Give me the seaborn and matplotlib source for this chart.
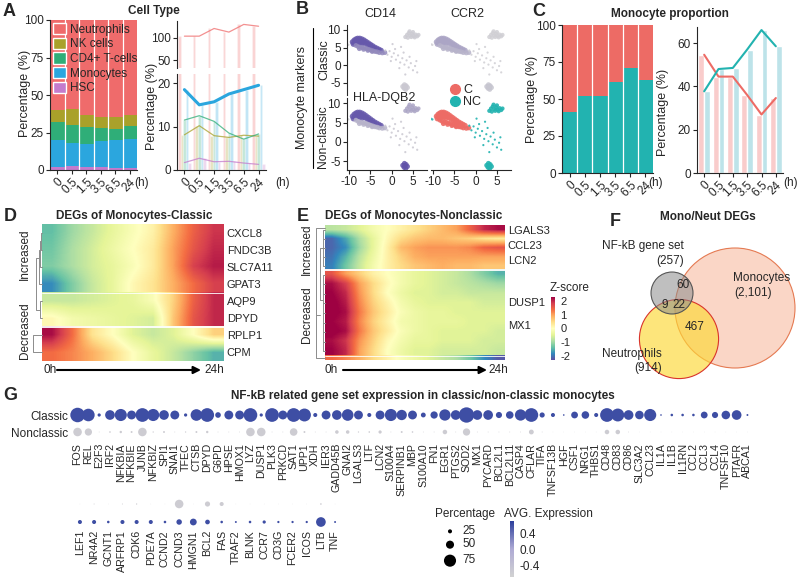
import numpy as np
import pandas as pd
import matplotlib
matplotlib.use("Agg")
import matplotlib.pyplot as plt
import seaborn as sns
from matplotlib.patches import Patch, Circle
from matplotlib.lines import Line2D
from matplotlib.colors import LinearSegmentedColormap, Normalize
from matplotlib.cm import ScalarMappable

sns.set_style("ticks")
plt.rcParams["font.family"] = ["Liberation Sans", "DejaVu Sans"]
plt.rcParams["axes.unicode_minus"] = False
plt.rcParams["axes.linewidth"] = 0.8
plt.rcParams["xtick.major.width"] = 0.8
plt.rcParams["ytick.major.width"] = 0.8
plt.rcParams["xtick.major.size"] = 3
plt.rcParams["ytick.major.size"] = 3
plt.rcParams["xtick.labelsize"] = 8.5
plt.rcParams["ytick.labelsize"] = 8.5
plt.rcParams["xtick.major.pad"] = 1.5
plt.rcParams["ytick.major.pad"] = 1.5

W, H = 799, 580

# ---------------- data: A (cell type composition) ----------------
times = ["0", "0.5", "1.5", "3.5", "6.5", "24"]
cell_types = ["Neutrophils", "NK cells", "CD4+ T-cells", "Monocytes", "HSC"]
cell_colors = ["#ef6b6b", "#a9a12a", "#2fae78", "#2ba6de", "#c47bcc"]
hsc_pct = [1.7, 2.7, 1.9, 2.0, 1.6, 1.3]
mono_pct = [18.5, 15.0, 15.7, 17.5, 18.5, 19.5]
cd4_pct = [11.5, 12.5, 11.2, 8.5, 7.1, 8.3]
nk_pct = [8.1, 10.2, 7.9, 7.5, 8.0, 7.8]
neut_scaled = [103, 103, 120, 112, 129, 125]

# ---------------- data: C (monocyte proportion) ----------------
nc_pct = [41, 52, 52, 61.5, 71, 63]
c_ratio = [54.6, 44.5, 44.5, 36.0, 27.0, 34.6]
nc_ratio = [37.7, 48.0, 48.5, 57.0, 66.0, 58.5]
c_col, nc_col = "#ed6b65", "#22b3b0"
c_light, nc_light = "#f9cccb", "#bde3e9"

# ---------------- data: B (UMAP points) ----------------
main_top = [(-9.2, 6.6), (-8.8, 7.1), (-8.4, 7.4), (-8.0, 7.6), (-7.5, 7.6), (-7.0, 7.4),
            (-6.5, 7.1), (-6.0, 6.7), (-5.5, 6.3), (-5.0, 5.9), (-4.5, 5.5), (-4.0, 5.1),
            (-3.5, 4.8), (-3.0, 4.5), (-2.5, 4.2), (-8.8, 6.4), (-8.3, 6.8), (-7.8, 7.0),
            (-7.3, 6.9), (-6.8, 6.6), (-6.3, 6.3), (-5.8, 5.9), (-5.3, 5.6), (-4.8, 5.3),
            (-4.3, 4.9), (-9.0, 6.0), (-8.5, 6.2), (-8.0, 6.4), (-7.5, 6.4), (-7.0, 6.1)]
main_low = [(-8.4, 5.6), (-7.9, 5.3), (-7.4, 5.1), (-6.9, 5.0), (-6.4, 4.9), (-5.9, 4.7),
            (-5.4, 4.5), (-4.9, 4.3), (-4.4, 4.1), (-3.9, 3.9), (-3.4, 3.8), (-2.9, 3.6),
            (-2.2, 3.5), (-1.6, 3.6), (-7.6, 4.7), (-6.6, 4.5), (-5.6, 4.2), (-4.6, 3.9)]
top_right = [(3.2, 8.0), (3.6, 8.6), (4.0, 9.1), (4.4, 8.4), (4.8, 8.9), (5.2, 8.3), (5.6, 8.7),
             (6.0, 8.2), (4.2, 9.6), (5.0, 9.4), (3.8, 7.8), (5.4, 7.9), (6.3, 8.6), (4.6, 8.0)]
bottom_cl = [(2.6, -6.0), (3.0, -5.5), (3.4, -5.8), (2.9, -6.5), (3.3, -6.8), (3.7, -6.3), (3.1, -6.1)]
scattered = [(-1.5, 4.2), (-1.0, 3.0), (-0.5, 4.0), (0.0, 2.4), (0.5, 3.4), (1.0, 1.6), (1.5, 2.8),
             (2.0, 0.8), (2.5, 2.0), (3.0, 0.2), (3.5, 1.4), (4.0, -0.6), (4.5, 0.6), (5.0, -1.4),
             (5.5, -0.2), (6.0, -2.0), (0.8, 4.6), (-0.2, 1.2), (2.8, 3.6), (4.2, 2.4), (3.2, -2.6),
             (1.8, -0.8), (5.8, 1.2), (2.2, 5.2), (0.2, 6.0)]
left_few = [(-10.6, 6.0), (-10.2, 5.8)]
b_expr = {
    "CD14": {"top": 0.9, "low": 0.55, "tr": 0.08, "bot": 0.1, "sc": 0.1, "lf": 0.05},
    "CCR2": {"top": 0.35, "low": 0.25, "tr": 0.05, "bot": 0.12, "sc": 0.05, "lf": 0.05},
    "HLA-DQB2": {"top": 0.9, "low": 0.25, "tr": 0.35, "bot": 0.95, "sc": 0.1, "lf": 0.05},
}
b_identity = {"top": "C", "low": "C", "tr": "NC", "bot": "NC", "sc": "NC", "lf": "NC"}

# ---------------- data: D / E heatmaps (z-score along pseudotime) ----------------
d_genes = ["CXCL8", "FNDC3B", "SLC7A11", "GPAT3", "AQP9", "DPYD", "RPLP1", "CPM"]
d_profiles = np.array([
    [-1.4, -1.0, -0.7, -0.4, -0.1, 0.2, 0.9, 1.5, 1.9],
    [-1.3, -0.9, -0.6, -0.3, 0.0, 0.3, 1.0, 1.6, 2.0],
    [-1.2, -0.9, -0.6, -0.4, -0.1, 0.3, 1.0, 1.8, 2.1],
    [-1.8, -1.2, -0.7, -0.4, 0.1, 0.4, 0.9, 1.4, 1.8],
    [-0.7, -0.7, -0.6, -0.5, -0.4, -0.1, 0.6, 1.5, 2.0],
    [0.1, -0.2, -0.3, -0.4, -0.5, -0.6, 0.7, 1.6, 2.0],
    [2.2, 1.4, 0.4, 0.0, -0.5, -0.7, -0.5, 0.0, 0.6],
    [1.4, 1.2, 0.9, 0.5, 0.0, -0.4, -0.7, -1.1, -1.5],
])
d_blocks = [(0, 4), (4, 6), (6, 8)]

e_up = np.array([
    [-0.8, -0.7, -0.5, -0.2, 0.0, 0.2, 0.4, 0.6, 0.8, 1.0, 1.5, 2.0, 2.2],
    [-2.1, -1.6, -0.9, -0.4, 0.1, 0.5, 0.7, 0.8, 0.8, 0.7, 0.6, 0.4, 0.3],
    [-2.1, -1.8, -1.0, -0.4, 0.2, 0.8, 1.0, 1.1, 1.1, 1.1, 1.2, 1.5, 1.6],
    [-2.0, -1.5, -0.8, -0.3, 0.2, 0.6, 0.9, 1.0, 1.0, 1.0, 1.0, 1.0, 1.0],
    [-1.9, -1.3, -0.7, -0.2, 0.2, 0.5, 0.7, 0.8, 0.9, 0.8, 0.8, 0.7, 0.7],
])
e_down = np.array([
    [1.6, 1.0, 0.6, 0.2, 0.0, -0.2, -0.4, -0.5, -0.6, -0.7, -0.9, -1.2, -1.5],
    [2.2, 1.8, 1.0, 0.5, 0.1, -0.2, -0.4, -0.5, -0.6, -0.7, -0.8, -0.9, -1.0],
    [2.3, 2.0, 1.1, 0.5, 0.0, -0.3, -0.5, -0.5, -0.6, -0.6, -0.7, -0.7, -0.7],
    [2.4, 2.1, 1.2, 0.6, 0.2, -0.2, -0.4, -0.5, -0.5, -0.5, -0.5, -0.6, -0.6],
    [2.4, 2.2, 1.3, 0.7, 0.3, -0.1, -0.3, -0.4, -0.4, -0.5, -0.5, -0.5, -0.5],
    [2.3, 2.1, 1.2, 0.6, 0.2, -0.2, -0.3, -0.4, -0.4, -0.4, -0.5, -0.5, -0.5],
    [2.4, 2.2, 1.3, 0.7, 0.3, -0.1, -0.3, -0.4, -0.5, -0.5, -0.5, -0.5, -0.6],
    [2.2, 1.9, 1.1, 0.6, 0.1, -0.2, -0.4, -0.4, -0.5, -0.5, -0.5, -0.6, -0.6],
    [2.3, 2.0, 1.0, 0.5, 0.0, -0.3, -0.5, -0.5, -0.6, -0.6, -0.6, -0.6, -0.7],
])
e_tail = np.array([[1.4, 1.2, 0.9, 0.5, 0.2, -0.1, -0.3, -0.5, -0.7, -0.9, -1.3, -1.8, -2.2]])
e_n_up, e_n_down, e_n_tail = 20, 38, 2
e_labels = ["LGALS3", "CCL23", "LCN2", "DUSP1", "MX1"]
e_label_rows = [2.2, 8.9, 15.6, 34.2, 44.4]

# ---------------- data: F (Venn) ----------------
venn_sizes = {"Monocytes": 2101, "Neutrophils": 914, "NF-kB": 257}
venn_counts = ["60", "9", "22", "467"]

# ---------------- data: G (dot plot) ----------------
genes1 = ["FOS", "REL", "E2F3", "IRF2", "NFKBIA", "NFKBIE", "JUNB", "NFKBIZ", "SPI1", "SNAI1",
          "TFEC", "CTSB", "DPYD", "G6PD", "HPSE", "HMOX1", "LYZ", "DUSP1", "PLK3", "PRKCD",
          "SAT1", "UPP1", "XDH", "IER3", "GADD45B", "GNAI2", "LGALS3", "LTF", "LCN2", "S100A4",
          "SERPINB1", "MBP", "S100A10", "FN1", "EGR1", "PTGS2", "SOD2", "MX1", "PYCARD", "BCL2L1",
          "BCL2L11", "CASP4", "CFLAR", "TIFA", "TNFSF13B", "HGF", "CSF1", "NRG1", "THBS1", "CD48",
          "CD83", "CD86", "SLC3A2", "CCL23", "IL1A", "IL1B", "IL1RN", "CCL2", "CCL3", "CCL4",
          "TNFSF10", "PTAFR", "ABCA1"]
classic_pct1 = [90, 78, 20, 60, 75, 55, 85, 75, 60, 55,
                20, 72, 85, 35, 55, 55, 85, 20, 85, 55,
                85, 80, 25, 55, 60, 72, 55, 25, 55, 75,
                64, 55, 30, 45, 70, 60, 95, 60, 60, 38,
                47, 70, 85, 32, 25, 10, 42, 47, 25, 85,
                80, 60, 53, 75, 10, 16, 16, 16, 42, 38,
                53, 60, 12]
nonclassic_pct1 = [53, 45, 5, 10, 15, 12, 53, 8, 12, 5,
                   8, 12, 15, 5, 5, 5, 53, 53, 5, 5,
                   47, 12, 5, 5, 22, 22, 8, 10, 20, 5,
                   12, 10, 5, 5, 28, 5, 45, 5, 5, 5,
                   5, 5, 30, 5, 3, 3, 3, 3, 3, 28,
                   28, 5, 3, 3, 3, 3, 3, 3, 3, 3,
                   3, 3, 3]
genes2 = ["LEF1", "NR4A2", "GCNT1", "ARFRP1", "CDK6", "PDE7A", "CCND2", "CCND3", "HMGN1", "BCL2",
          "FAS", "TRAF2", "BLNK", "CCR7", "CD3G", "FCER2", "ICOS", "LTB", "TNF"]
classic_pct2 = [3, 6, 3, 6, 8, 3, 3, 53, 3, 32, 25, 3, 3, 3, 3, 3, 3, 10, 3]
nonclassic_pct2 = [25, 25, 16, 25, 25, 25, 16, 34, 42, 29, 16, 12, 16, 20, 14, 14, 14, 60, 12]
expr_high, expr_low = 0.6, -0.6

# ---------------- figure helpers ----------------
fig = plt.figure(figsize=(W / 100, H / 100), dpi=100)


def add_ax(x0, y0, x1, y1, **kw):
    return fig.add_axes([x0 / W, 1 - y1 / H, (x1 - x0) / W, (y1 - y0) / H], **kw)


def txt(x, y, s, **kw):
    kw.setdefault("ha", "center")
    kw.setdefault("va", "center")
    kw.setdefault("fontsize", 8.5)
    fig.text(x / W, 1 - y / H, s, **kw)


def time_axis(ax):
    ax.set_xlim(-0.5, 5.5)
    ax.set_xticks(range(6))
    ax.set_xticklabels(times, rotation=45, ha="right", rotation_mode="anchor")
    ax.set_xlabel("")
    ax.set_ylabel("")


# ================= A left: stacked composition =================
ax = add_ax(50, 20, 137, 170)
cum_hsc = np.array(hsc_pct)
cum_mono = cum_hsc + mono_pct
cum_cd4 = cum_mono + cd4_pct
cum_nk = cum_cd4 + nk_pct
total = np.full(6, 100.0)
for vals, col in zip([total, cum_nk, cum_cd4, cum_mono, cum_hsc], cell_colors):
    sns.barplot(x=times, y=vals, color=col, saturation=1, width=1, edgecolor="none",
                errorbar=None, ax=ax)
for i in range(5):
    ax.axvline(i + 0.5, color="white", lw=0.9)
ax.set_ylim(0, 100)
ax.set_yticks([0, 25, 50, 75, 100])
time_axis(ax)
sns.despine(ax=ax)
ax.legend(handles=[Patch(facecolor=c, label=n) for n, c in zip(cell_types, cell_colors)],
          loc="upper left", frameon=False, fontsize=8.5, handlelength=1.1, handleheight=1.1,
          handletextpad=0.35, labelspacing=0.17, borderaxespad=0.15, borderpad=0.1)

# ================= A right: broken axis bars + lines =================
a_long = pd.DataFrame({
    "time": times * 5,
    "cell": np.repeat(cell_types, 6),
    "pct": neut_scaled + nk_pct + cd4_pct + mono_pct + hsc_pct,
})
a_series = [neut_scaled, nk_pct, cd4_pct, mono_pct, hsc_pct]
ax_up = add_ax(177, 21, 266, 68)
ax_lo = add_ax(177, 74, 266, 170)
for axx in (ax_up, ax_lo):
    sns.barplot(data=a_long, x="time", y="pct", hue="cell", hue_order=cell_types,
                palette=cell_colors, saturation=1, alpha=0.3, width=0.85, errorbar=None,
                legend=False, ax=axx)
    for name, vals, col in zip(cell_types, a_series, cell_colors):
        big = name == "Monocytes"
        sns.lineplot(x=np.arange(6), y=vals, color=col, lw=2.2 if big else 0.9,
                     alpha=1 if big else 0.75, ax=axx)
    time_axis(axx)
ax_up.set_ylim(32.4, 136.6)
ax_up.set_yticks([50, 100])
ax_up.set_xticks([])
sns.despine(ax=ax_up, bottom=True)
ax_lo.set_ylim(0, 22.1)
ax_lo.set_yticks([0, 10, 20])
sns.despine(ax=ax_lo)

# ================= B: UMAP marker panels =================
rows = []
for grp, pts in [("top", main_top), ("low", main_low), ("tr", top_right),
                 ("bot", bottom_cl), ("sc", scattered), ("lf", left_few)]:
    for x, y in pts:
        rows.append((x, y, grp))
umap = pd.DataFrame(rows, columns=["x", "y", "group"])
pt_sizes = {"top": 16, "low": 12, "tr": 9, "bot": 13, "sc": 2.5, "lf": 3}
marker_cmap = LinearSegmentedColormap.from_list("mk", ["#d6d6d6", "#5a4aa6"])

b_axes = {
    "CD14": add_ax(347, 25, 427, 95),
    "CCR2": add_ax(431, 25, 511, 95),
    "HLA-DQB2": add_ax(347, 98, 427, 170),
    "C/NC": add_ax(431, 98, 511, 170),
}
for key, axb in b_axes.items():
    if key == "C/NC":
        umap["ident"] = umap["group"].map(b_identity)
        sns.scatterplot(data=umap, x="x", y="y", hue="ident", palette={"C": c_col, "NC": nc_col},
                        size="group", sizes=pt_sizes, linewidth=0, alpha=0.9, legend=False, ax=axb)
    else:
        umap["expr"] = umap["group"].map(b_expr[key])
        sns.scatterplot(data=umap, x="x", y="y", hue="expr", palette=marker_cmap, hue_norm=(0, 1),
                        size="group", sizes=pt_sizes, linewidth=0, alpha=0.85, legend=False, ax=axb)
    axb.set_xlim(-10.5, 8.3)
    top_row = key in ("CD14", "CCR2")
    left_col = key in ("CD14", "HLA-DQB2")
    axb.set_ylim((-8.4, 11.4) if top_row else (-7.2, 11.3))
    axb.set_xticks([-10, -5, 0, 5])
    axb.set_yticks([-5, 0, 5, 10])
    axb.set_xlabel("")
    axb.set_ylabel("")
    for side in ("top", "right"):
        axb.spines[side].set_visible(False)
    axb.spines["left"].set_visible(left_col)
    axb.spines["bottom"].set_visible(not top_row)
    axb.tick_params(axis="y", left=left_col, labelleft=left_col)
    axb.tick_params(axis="x", bottom=not top_row, labelbottom=not top_row)
    axb.patch.set_alpha(0)
b_axes["C/NC"].legend(
    handles=[Line2D([], [], marker="o", ls="", color=c_col, markersize=7),
             Line2D([], [], marker="o", ls="", color=nc_col, markersize=7)],
    labels=["C", "NC"], loc="center left", bbox_to_anchor=(443 / W, 1 - 96 / H),
    bbox_transform=fig.transFigure, frameon=False, fontsize=9, handletextpad=0.1,
    labelspacing=0.0, borderpad=0, handlelength=1.0)

# ================= C left: stacked C / NC =================
ax = add_ax(562, 25, 653, 173)
sns.barplot(x=times, y=np.full(6, 100.0), color=c_col, saturation=1, width=1,
            edgecolor="none", errorbar=None, ax=ax)
sns.barplot(x=times, y=nc_pct, color=nc_col, saturation=1, width=1,
            edgecolor="none", errorbar=None, ax=ax)
for i in range(5):
    ax.axvline(i + 0.5, color="white", lw=0.9)
ax.set_ylim(0, 100)
ax.set_yticks([0, 25, 50, 75, 100])
time_axis(ax)
sns.despine(ax=ax)

# ================= C right: grouped bars + lines =================
ax = add_ax(697, 27, 783, 173)
c_long = pd.DataFrame({"time": times * 2, "type": ["C"] * 6 + ["NC"] * 6,
                       "pct": c_ratio + nc_ratio})
sns.barplot(data=c_long, x="time", y="pct", hue="type", hue_order=["C", "NC"],
            palette=[c_light, nc_light], saturation=1, width=0.8, errorbar=None,
            legend=False, ax=ax)
sns.lineplot(x=np.arange(6), y=c_ratio, color=c_col, lw=1.5, ax=ax)
sns.lineplot(x=np.arange(6), y=nc_ratio, color=nc_col, lw=1.5, ax=ax)
ax.set_ylim(0, 67.4)
ax.set_yticks([0, 20, 40, 60])
time_axis(ax)
sns.despine(ax=ax)

# ================= D / E heatmaps =================
spec = plt.get_cmap("Spectral_r")
znorm = Normalize(-2.3, 2.3)


def heat_block(axh, data, r0, r1):
    axh.imshow(data, cmap=spec, norm=znorm, aspect="auto", interpolation="bilinear",
               interpolation_stage="data", extent=(0, 1, r1, r0))


axd = add_ax(42, 224, 224, 361)
for r0, r1 in d_blocks:
    heat_block(axd, d_profiles[r0:r1], r0, r1)
axd.set_xlim(0, 1)
axd.set_ylim(8, 0)
axd.axhline(4, color="white", lw=0.6)
axd.axhline(6, color="white", lw=1.3)
axd.set_xticks([])
axd.yaxis.tick_right()
axd.set_yticks(np.arange(8) + 0.5)
axd.set_yticklabels(d_genes, fontsize=8)
axd.tick_params(axis="y", length=0, pad=2)
for s in axd.spines.values():
    s.set_visible(False)

axe = add_ax(325, 225, 505, 360)
n_all = e_n_up + e_n_down + e_n_tail
heat_block(axe, e_up, 0, e_n_up)
heat_block(axe, e_down, e_n_up, e_n_up + e_n_down)
heat_block(axe, e_tail, e_n_up + e_n_down, n_all)
axe.set_xlim(0, 1)
axe.set_ylim(n_all, 0)
axe.axhline(e_n_up, color="white", lw=1.3)
axe.axhline(e_n_up + e_n_down, color="white", lw=0.6)
axe.set_xticks([])
axe.yaxis.tick_right()
axe.set_yticks(e_label_rows)
axe.set_yticklabels(e_labels, fontsize=8)
axe.tick_params(axis="y", length=0, pad=2)
for s in axe.spines.values():
    s.set_visible(False)

cax_z = add_ax(551, 297, 555, 360)
cbz = fig.colorbar(ScalarMappable(norm=znorm, cmap=spec), cax=cax_z)
cbz.set_ticks([-2, -1, 0, 1, 2])
cbz.outline.set_visible(False)
cax_z.tick_params(labelsize=8, length=2, color="white", pad=2)

# ================= G: dot plot =================
avg_cmap = LinearSegmentedColormap.from_list("avg", ["#d2d2d2", "#aeaad4", "#2c3f9c"])
avg_norm = Normalize(-0.7, 0.7)


def dot_block(axg, genes, pct_top, pct_bot, expr_top, expr_bot):
    n = len(genes)
    df = pd.DataFrame({
        "pos": list(range(n)) * 2,
        "row": [0] * n + [1] * n,
        "pct": pct_top + pct_bot,
        "expr": [expr_top] * n + [expr_bot] * n,
    })
    sns.scatterplot(data=df, x="pos", y="row", hue="expr", palette=avg_cmap,
                    hue_norm=(-0.7, 0.7), size=df["pct"] ** 2, sizes=(0, 135),
                    size_norm=(0, 10000), linewidth=0, legend=False, ax=axg)
    axg.set_xlim(-0.7, n - 0.3)
    axg.set_xticks(range(n))
    axg.set_xticklabels(genes, rotation=90, fontsize=7.7)
    axg.tick_params(length=0, pad=1.5)
    axg.set_xlabel("")
    axg.set_ylabel("")
    for s in axg.spines.values():
        s.set_visible(False)
    axg.patch.set_alpha(0)


axg1 = add_ax(70, 404, 755, 441)
dot_block(axg1, genes1, classic_pct1, nonclassic_pct1, expr_high, expr_low)
axg1.set_ylim(1.529, -0.647)
axg1.set_yticks([0, 1])
axg1.set_yticklabels(["Classic", "Nonclassic"], fontsize=8.5)

axg2 = add_ax(70, 492, 345, 528)
dot_block(axg2, genes2, classic_pct2, nonclassic_pct2, expr_low, expr_high)
axg2.set_ylim(1.333, -0.667)
axg2.set_yticks([])

# percentage legend
axl = add_ax(440, 522, 460, 570)
leg_pct = np.array([25, 50, 75])
sns.scatterplot(x=[0, 0, 0], y=[0, 1, 2.2], size=leg_pct ** 2, sizes=(0, 135),
                size_norm=(0, 10000), color="black", linewidth=0, legend=False, ax=axl)
axl.set_xlim(-1, 1)
axl.set_ylim(2.9, -0.7)
axl.axis("off")
for v, yy in zip(leg_pct, [531, 544, 560]):
    txt(462, yy, str(v), ha="left")
txt(465, 514, "Percentage")

cax_g = add_ax(510, 521, 514, 577)
cbg = fig.colorbar(ScalarMappable(norm=avg_norm, cmap=avg_cmap), cax=cax_g)
cbg.set_ticks([-0.4, 0.0, 0.4])
cbg.set_ticklabels(["-0.4", "0.0", "0.4"])
cbg.outline.set_visible(False)
cax_g.tick_params(labelsize=8.5, length=2, color="white", pad=2)
txt(504, 514, "AVG. Expression", ha="left")

# ================= overlay: dendrograms, arrows, Venn =================
ov = add_ax(0, 0, W, H, zorder=2)
ov.set_xlim(0, W)
ov.set_ylim(H, 0)
ov.axis("off")
ov.patch.set_visible(False)
dcol = "#8c8c8c"


def link(xj, ya, yb, xa, xb):
    ov.plot([xa, xj, xj, xb], [ya, ya, yb, yb], color=dcol, lw=0.7)


def d_row(i):
    return 224 + (i + 0.5) * 137 / 8


link(40.5, d_row(0), d_row(1), 42, 42)
link(39.5, (d_row(0) + d_row(1)) / 2, d_row(2), 40.5, 42)
link(38.5, (d_row(0) + d_row(2)) / 2, d_row(3), 39.5, 42)
link(39.5, d_row(4), d_row(5), 42, 42)
link(36, (d_row(0) + d_row(3)) / 2, (d_row(4) + d_row(5)) / 2, 38.5, 39.5)
link(33, d_row(6), d_row(7), 42, 42)


def e_row(i, n, top, bottom):
    return top + (i + 0.5) * (bottom - top) / n


for i in range(4):
    link(323, e_row(i, 5, 225, 270), e_row(i + 1, 5, 225, 270), 325, 325)
for i in range(8):
    link(322.5, e_row(i, 9, 270, 356), e_row(i + 1, 9, 270, 356), 325, 325)
link(320, 247.5, 300, 323, 322.5)
link(316, 228, 315, 325, 320)
link(316, 315, 358, 316, 325)

for x0, x1, xt0, xt1 in [(57, 201, 50, 214), (343, 487, 331, 498)]:
    ov.annotate("", xy=(x1, 370), xytext=(x0, 370),
                arrowprops=dict(arrowstyle="-|>", lw=1.5, color="black", mutation_scale=11,
                                shrinkA=0, shrinkB=0))
    txt(xt0, 370, "0h")
    txt(xt1, 370, "24h")

ov.plot([313, 313], [28, 168], color="black", lw=0.8)

k = 60 / np.sqrt(venn_sizes["Monocytes"])
venn_layout = [("Monocytes", (735, 308), "#f4a582", 0.45, "#e57a52"),
               ("Neutrophils", (679, 339), "#fdd835", 0.65, "#d9342b"),
               ("NF-kB", (672, 293), "#8c8c8c", 0.55, "#555555")]
for name, cen, fc, al, ec in venn_layout:
    r = k * np.sqrt(venn_sizes[name])
    ov.add_patch(Circle(cen, r, facecolor=fc, alpha=al, edgecolor="none"))
    ov.add_patch(Circle(cen, r, fill=False, edgecolor=ec, lw=0.8))
for s, (x, y) in zip(venn_counts, [(683, 285), (665, 305), (679, 305), (695, 327)]):
    txt(x, y, s)
txt(643, 246, "NF-kB gene set")
txt(670, 261, "(257)")
txt(762, 278, "Monocytes")
txt(753, 293, "(2,101)")
txt(632, 354, "Neutrophils")
txt(648, 368, "(914)")

# ================= texts =================
bold = dict(fontweight="bold", fontsize=8.5)
txt(154, 11, "Cell Type", **bold)
txt(670, 14, "Monocyte proportion", **bold)
txt(134, 216, "DEGs of Monocytes-Classic", **bold)
txt(414, 216, "DEGs of Monocytes-Nonclassic", **bold)
txt(708, 217, "Mono/Neut DEGs", **bold)
txt(423, 396, "NF-kB related gene set expression in classic/non-classic monocytes", **bold)

letter = dict(fontweight="bold", fontsize=13)
for s, x, y in [("A", 9, 12), ("B", 302, 10), ("C", 539, 11), ("D", 10, 216),
                ("E", 303, 216), ("F", 615, 221), ("G", 10, 396)]:
    txt(x, y, s, **letter)

txt(25, 93, "Percentage (%)", rotation=90, fontsize=9)
txt(152, 106, "Percentage (%)", rotation=90, fontsize=9)
txt(532, 99, "Percentage (%)", rotation=90, fontsize=9)
txt(663, 112, "Percentage (%)", rotation=90, fontsize=9)
for x in (142, 283, 656, 791):
    txt(x, 183, "(h)", fontsize=8.5)

txt(380, 14, "CD14", fontsize=9)
txt(467, 14, "CCR2", fontsize=9)
txt(384, 98, "HLA-DQB2", fontsize=9)
txt(302, 97, "Monocyte markers", rotation=90, fontsize=9)
txt(324, 60, "Classic", rotation=90, fontsize=9)
txt(323, 137, "Non-classic", rotation=90, fontsize=8.7)

txt(25, 254, "Increased", rotation=90)
txt(25, 331, "Decreased", rotation=90)
txt(307, 249, "Increased", rotation=90)
txt(307, 315, "Decreased", rotation=90)
txt(570, 288, "Z-score")

fig.savefig("out.png", dpi=100)
